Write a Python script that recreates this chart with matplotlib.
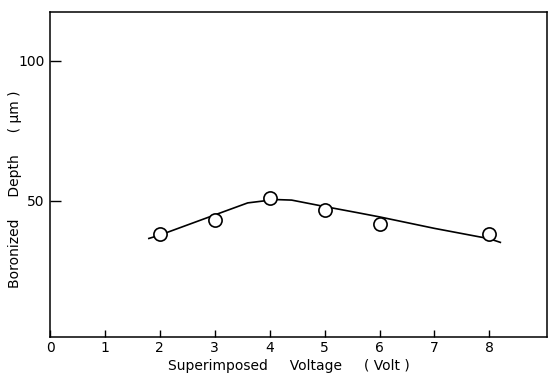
import matplotlib
matplotlib.use("Agg")
import matplotlib.pyplot as plt

# Measured boronized depth at each superimposed voltage
voltage = [2, 3, 4, 5, 6, 8]
depth = [38.1, 43.1, 50.9, 46.9, 41.7, 38.1]

# Hand-drawn trend curve through the measurements
curve_voltage = [1.8, 2.0, 3.0, 3.6, 4.1, 4.4, 5.0, 5.6, 6.0, 7.0, 8.0, 8.2]
curve_depth = [36.6, 37.8, 45.0, 49.3, 50.5, 50.3, 48.0, 45.8, 44.3, 40.2, 36.5, 35.2]

x_ticks = [0, 1, 2, 3, 4, 5, 6, 7, 8]
y_ticks = [50, 100]

plt.rcParams['font.family'] = ['DejaVu Sans']

fig = plt.figure(figsize=(5.49, 3.74), dpi=100)
ax = fig.add_axes([0.0911, 0.0997, 0.9053, 0.8683])

ax.plot(curve_voltage, curve_depth, color='black', lw=1.2, zorder=2)
ax.plot(voltage, depth, linestyle='none', marker='o', markersize=9.5,
        markerfacecolor='white', markeredgecolor='black',
        markeredgewidth=1.2, zorder=3)

ax.set_xlim(0, 9.05)
ax.set_ylim(1.5, 117.5)
ax.set_xticks(x_ticks)
ax.set_yticks(y_ticks)
ax.tick_params(axis='x', direction='in', length=5, width=1, labelsize=10, pad=3)
ax.tick_params(axis='y', direction='in', length=8, width=1, labelsize=10, pad=4)

for s in ax.spines.values():
    s.set_linewidth(1.1)

ax.set_xlabel('Superimposed     Voltage     ( Volt )', fontsize=10)
ax.set_ylabel('Boronized     Depth     ( μm )', fontsize=10)
ax.xaxis.set_label_coords(0.481, -0.069)
ax.yaxis.set_label_coords(-0.057, 0.455)

fig.savefig('out.png', dpi=100)
